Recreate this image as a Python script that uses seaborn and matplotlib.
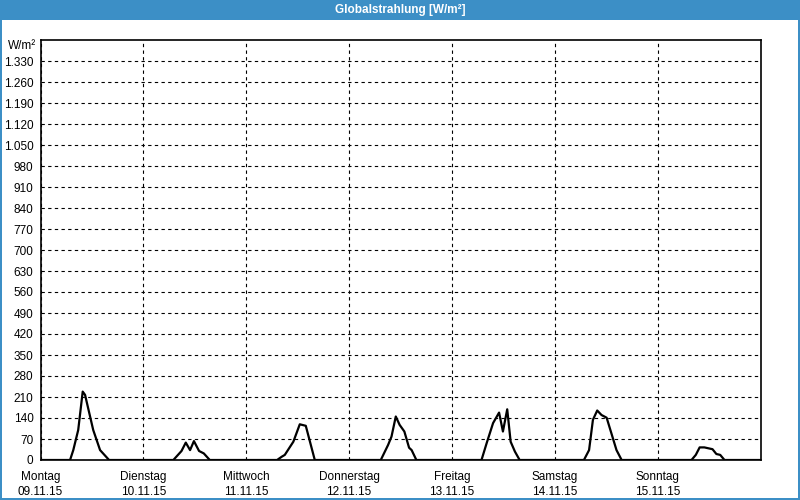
import numpy as np
import pandas as pd
import matplotlib
matplotlib.use("Agg")
import matplotlib.pyplot as plt
from matplotlib.patches import Rectangle
from matplotlib.ticker import FuncFormatter
import seaborn as sns

# ---- data (hour of day, W/m²) ----
days = ["Montag", "Dienstag", "Mittwoch", "Donnerstag", "Freitag", "Samstag", "Sonntag"]
dates = ["09.11.15", "10.11.15", "11.11.15", "12.11.15", "13.11.15", "14.11.15", "15.11.15"]

mon_h = [6.9, 7.65, 8.8, 9.85, 10.4, 12.3, 13.9, 16.0]
mon_v = [0, 33, 100, 228, 217, 100, 33, 0]
tue_h = [7.0, 8.9, 9.9, 10.9, 11.8, 13.0, 14.1, 15.5]
tue_v = [0, 30, 58, 33, 63, 30, 22, 0]
wed_h = [7.2, 8.3, 9.0, 11.0, 12.5, 13.9, 16.0]
wed_v = [0, 11, 17, 61, 119, 114, 0]
thu_h = [7.4, 9.1, 9.9, 10.9, 11.8, 12.9, 14.0, 14.6, 15.7]
thu_v = [0, 50, 78, 145, 117, 95, 41, 33, 0]
fri_h = [6.9, 8.1, 9.6, 11.0, 11.9, 12.9, 13.7, 14.7, 15.8]
fri_v = [0, 56, 123, 158, 95, 169, 61, 28, 0]
sat_h = [6.8, 8.0, 8.9, 9.9, 10.9, 12.1, 14.4, 15.6]
sat_v = [0, 33, 134, 165, 150, 141, 33, 0]
sun_h = [7.9, 8.9, 9.8, 10.9, 12.8, 13.7, 14.6, 15.6]
sun_v = [0, 17, 42, 42, 36, 20, 17, 0]

day_hours = [mon_h, tue_h, wed_h, thu_h, fri_h, sat_h, sun_h]
day_values = [mon_v, tue_v, wed_v, thu_v, fri_v, sat_v, sun_v]

t = [0.0]
v = [0.0]
for k, (hh, vv) in enumerate(zip(day_hours, day_values)):
    t += [24 * k + h for h in hh]
    v += list(vv)
t.append(168.0)
v.append(0.0)
df = pd.DataFrame({"t": t, "v": v})

# ---- style ----
sns.set_style("white")
plt.rcParams["font.family"] = ["Liberation Sans", "DejaVu Sans"]

blue = "#3c8fc6"
fig = plt.figure(figsize=(8, 5), dpi=100, facecolor="white")

# title bar and frame
fig.patches.append(Rectangle((0, 1 - 20 / 500), 1, 20 / 500, transform=fig.transFigure,
                             facecolor=blue, edgecolor="none", zorder=0))
fig.patches.append(Rectangle((0, 0), 2 / 800, 1, transform=fig.transFigure,
                             facecolor=blue, edgecolor="none", zorder=0))
fig.patches.append(Rectangle((1 - 2 / 800, 0), 2 / 800, 1, transform=fig.transFigure,
                             facecolor=blue, edgecolor="none", zorder=0))
fig.patches.append(Rectangle((0, 0), 1, 2 / 500, transform=fig.transFigure,
                             facecolor=blue, edgecolor="none", zorder=0))
fig.text(0.5, 1 - 10 / 500, "Globalstrahlung [W/m²]", color="white", fontsize=8.5,
         fontweight="bold", ha="center", va="center")

ax = fig.add_axes([40.5 / 800, 40 / 500, 720 / 800, 420 / 500])
ax.set_facecolor("white")

sns.lineplot(data=df, x="t", y="v", ax=ax, color="black", linewidth=1.6, zorder=3)

ax.set_xlim(0, 168)
ax.set_ylim(0, 1400)
ax.set_yticks(np.arange(0, 1331, 70))
ax.yaxis.set_major_formatter(FuncFormatter(lambda x, p: f"{x:,.0f}".replace(",", ".")))
ax.set_xticks(np.arange(0, 168, 24))
ax.set_xticklabels([f"{d}\n{dt}" for d, dt in zip(days, dates)])
ax.tick_params(axis="both", length=0, labelsize=8.5, colors="black")
ax.tick_params(axis="x", pad=8)
ax.tick_params(axis="y", pad=5)
for lab in ax.get_xticklabels():
    lab.set_linespacing(1.35)

ax.grid(True, color="black", linestyle=(0, (3, 3)), linewidth=0.8)
ax.set_axisbelow(True)
for s in ax.spines.values():
    s.set_visible(True)
    s.set_color("black")
    s.set_linewidth(1.2)
ax.set_xlabel("")
ax.set_ylabel("")

ax.text(-0.006, 1 - 6 / 420, "W/m²", transform=ax.transAxes, ha="right", va="center",
        fontsize=8.5, color="black")

fig.savefig("out.png", dpi=100, facecolor="white")
